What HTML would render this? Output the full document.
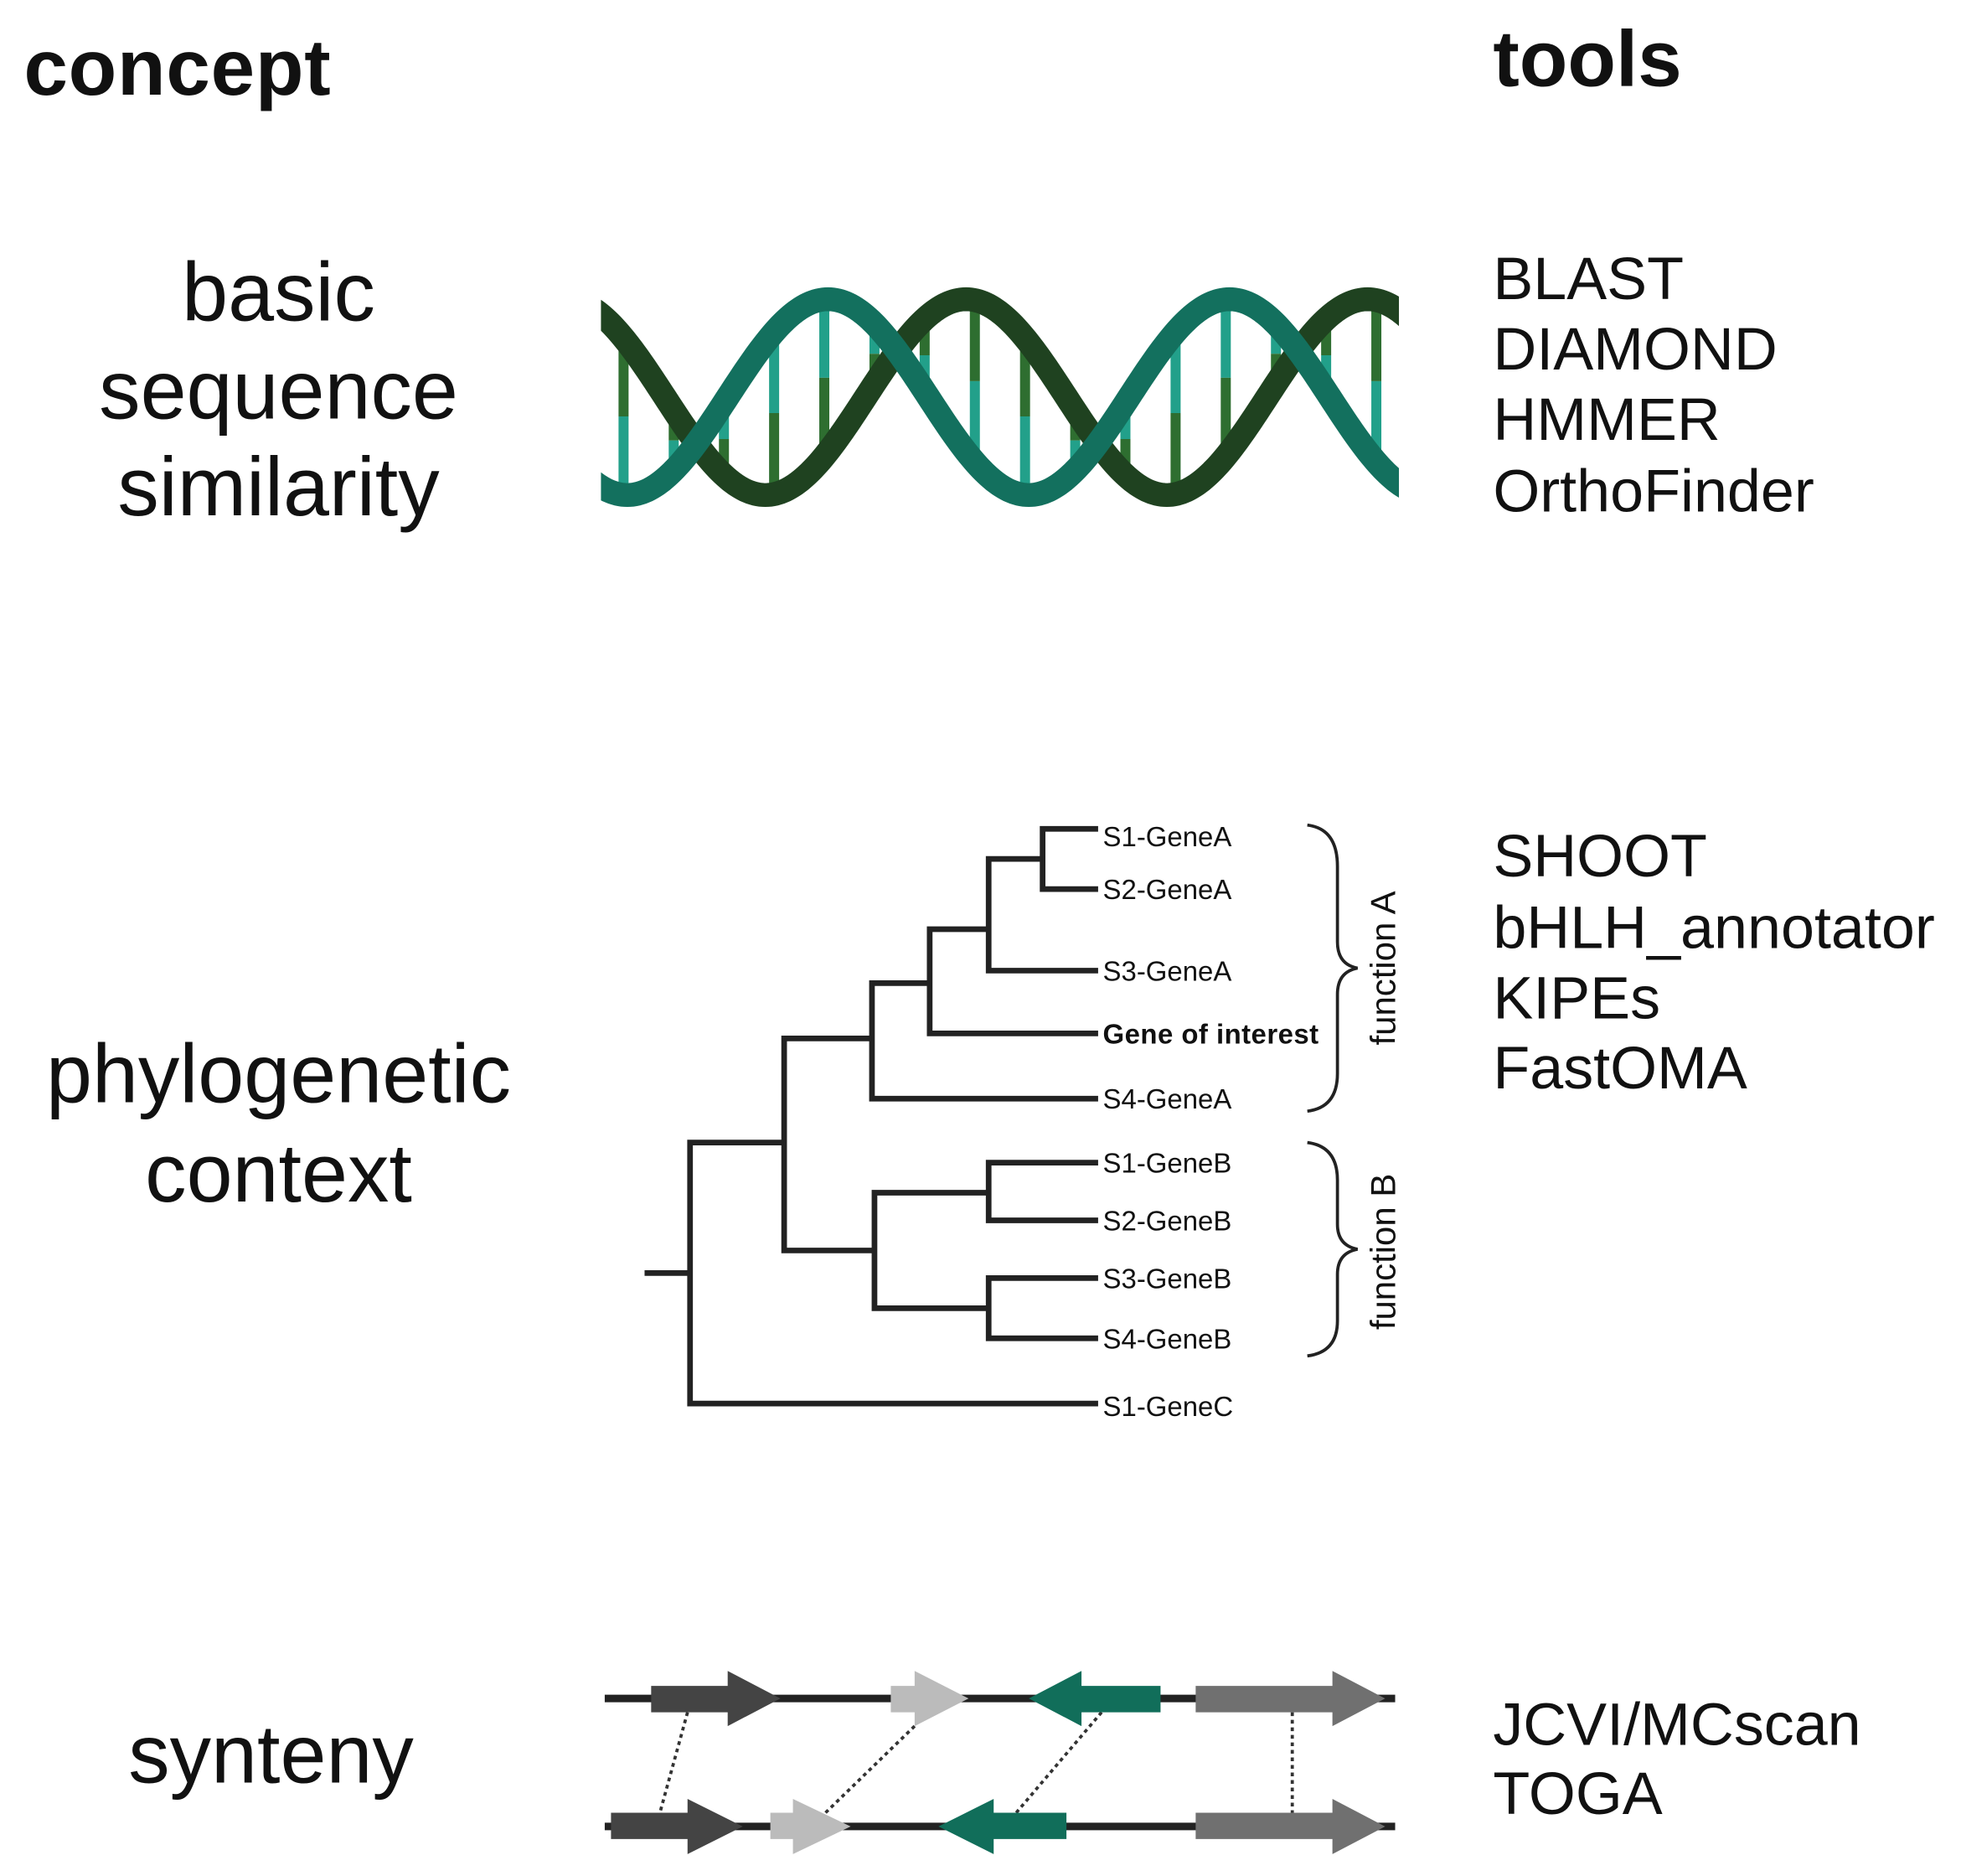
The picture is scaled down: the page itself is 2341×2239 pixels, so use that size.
<!DOCTYPE html>
<html><head><meta charset="utf-8"><style>
html,body{margin:0;padding:0;background:#fff;}
svg{display:block;}
text{font-family:"Liberation Sans",sans-serif;fill:#111;}
</style></head><body>
<svg id="s" width="2341" height="2239" viewBox="0 0 1563 1494" xmlns="http://www.w3.org/2000/svg">
<rect width="1563" height="1494" fill="#fff"/>
<text x="19" y="75" font-size="63" font-weight="bold" letter-spacing="0.5">concept</text>
<text x="1190" y="68" font-size="63" font-weight="bold">tools</text>
<g font-size="66" text-anchor="middle">
<text x="222" y="255">basic</text>
<text x="222" y="333">sequence</text>
<text x="222" y="410">similarity</text>
<text x="222" y="878">phylogenetic</text>
<text x="222" y="957">context</text>
<text x="216" y="1420">synteny</text>
</g>
<g font-size="48">
<text x="1190" y="238">BLAST</text>
<text x="1190" y="294">DIAMOND</text>
<text x="1190" y="350">HMMER</text>
<text x="1190" y="407">OrthoFinder</text>
<text x="1190" y="698">SHOOT</text>
<text x="1190" y="755">bHLH_annotator</text>
<text x="1190" y="811">KIPEs</text>
<text x="1190" y="867">FastOMA</text>
<text x="1190" y="1390">JCVI/MCscan</text>
<text x="1190" y="1445">TOGA</text>
</g>
<defs><clipPath id="dc"><rect x="479" y="220" width="636" height="200"/></clipPath></defs>
<g id="dna" clip-path="url(#dc)"></g>
<g stroke="#222" stroke-width="4.5" fill="none" stroke-linecap="square">
<path d="M516 1014H550M550 910V1118M550 1118H873M550 910H625M625 827V996M625 996H697M697 950V1042M697 950H788M788 926V972M788 926H873M788 972H873M697 1042H788M788 1018V1066M788 1018H873M788 1066H873M625 827H695M695 783V875M695 875H873M695 783H741M741 740V823M741 823H873M741 740H788M788 684V773M788 773H873M788 684H831M831 660V708M831 660H873M831 708H873"/>
</g>
<g font-size="22" fill="#333">
<text x="879" y="674">S1-GeneA</text>
<text x="879" y="716">S2-GeneA</text>
<text x="879" y="781">S3-GeneA</text>
<text x="879" y="831" font-weight="bold" textLength="172">Gene of interest</text>
<text x="879" y="883">S4-GeneA</text>
<text x="879" y="934">S1-GeneB</text>
<text x="879" y="980">S2-GeneB</text>
<text x="879" y="1026">S3-GeneB</text>
<text x="879" y="1074">S4-GeneB</text>
<text x="879" y="1128">S1-GeneC</text>
</g>
<g stroke="#222" stroke-width="2.5" fill="none">
<path d="M1042 657Q1066 660 1066 690V750Q1066 768 1082 771Q1066 774 1066 792V855Q1066 882 1042 885"/>
<path d="M1042 910Q1066 913 1066 940V975Q1066 992 1082 995Q1066 998 1066 1015V1052Q1066 1077 1042 1080"/>
</g>
<text transform="translate(1112 771) rotate(-90)" font-size="28" text-anchor="middle">function A</text>
<text transform="translate(1112 997) rotate(-90)" font-size="28" text-anchor="middle">function B</text>
<g stroke="#222" stroke-width="6"><path d="M482 1353H1112M482 1455H1112"/></g>
<g stroke="#333" stroke-width="2.5" stroke-dasharray="3 3" fill="none">
<path d="M548 1364L526 1444M729 1375L658 1444M878 1364L810 1444M1030 1364L1030 1444"/>
</g>
<g>
<polygon fill="#444" points="519,1343 580,1343 580,1331 622,1353 580,1375 580,1364 519,1364"/>
<polygon fill="#bbb" points="710,1343 729,1343 729,1331 772,1353 729,1375 729,1364 710,1364"/>
<polygon fill="#116e5a" points="925,1343 862,1343 862,1331 820,1353 862,1375 862,1364 925,1364"/>
<polygon fill="#707070" points="953,1343 1062,1343 1062,1331 1104,1353 1062,1375 1062,1364 953,1364"/>
<polygon fill="#444" points="487,1444 548,1444 548,1433 592,1455 548,1477 548,1465 487,1465"/>
<polygon fill="#bbb" points="614,1444 632,1444 632,1433 678,1455 632,1477 632,1465 614,1465"/>
<polygon fill="#116e5a" points="850,1444 792,1444 792,1433 748,1455 792,1477 792,1465 850,1465"/>
<polygon fill="#707070" points="953,1444 1062,1444 1062,1433 1104,1455 1062,1477 1062,1465 953,1465"/>
</g>
</svg>
<script>
(function(){
var g=document.getElementById('dna');
function t(x){return 316-78*Math.cos(2*Math.PI*(x-660)/320);}
function d(x){return 316-78*Math.cos(2*Math.PI*(x-770)/320);}
var h='';
for(var k=0;k<16;k++){var x=497+40*k,a=t(x),b=d(x),m=(a+b)/2;
h+='<line x1="'+x+'" y1="'+a+'" x2="'+x+'" y2="'+m+'" stroke="#22a08a" stroke-width="8"/>';
h+='<line x1="'+x+'" y1="'+m+'" x2="'+x+'" y2="'+b+'" stroke="#2e6e30" stroke-width="8"/>';}
function p(f){var s='M460 '+f(460);for(var x=462;x<=1130;x+=2)s+=' L'+x+' '+f(x).toFixed(2);return s;}
h+='<path d="'+p(d)+'" stroke="#1f4220" stroke-width="19" fill="none"/>';
h+='<path d="'+p(t)+'" stroke="#13705e" stroke-width="19" fill="none"/>';
g.innerHTML=h;
})();
</script>
</body></html>
